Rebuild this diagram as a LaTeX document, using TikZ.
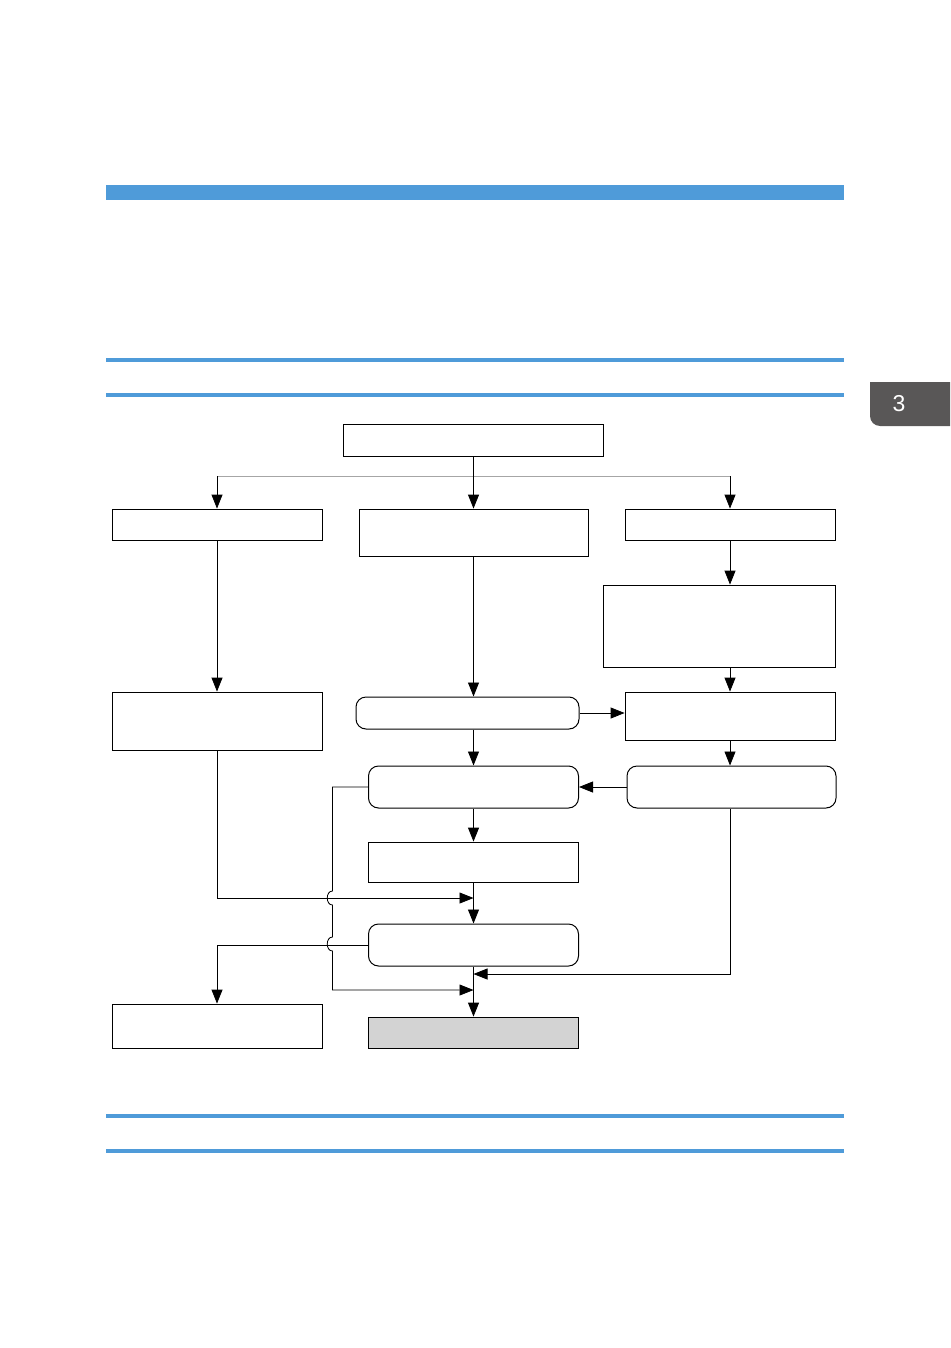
\documentclass[tikz,border=0pt]{standalone}
\usepackage{fontspec}
\setsansfont{Liberation Sans}
\usepackage{tikz}
\usetikzlibrary{arrows.meta}
\definecolor{barblue}{RGB}{79,155,217}
\definecolor{tabgrey}{RGB}{89,87,87}
\definecolor{endgrey}{RGB}{211,211,211}
\begin{document}
\begin{tikzpicture}[x=1pt,y=-1pt,line width=0.8pt,
	box/.style={draw,rectangle,inner sep=0pt,minimum width=210pt},
	rbox/.style={box,line width=1pt,rounded corners=10pt},
	arr/.style={-{Triangle[length=14pt,width=11pt]}}]
	\useasboundingbox (0,0) rectangle (950,1348);
	% page bars and tab
	\fill[barblue] (106,185) rectangle (844,200);
	\fill[barblue] (106,358) rectangle (844,362);
	\fill[barblue] (106,393) rectangle (844,397);
	\fill[barblue] (106,1114) rectangle (844,1118);
	\fill[barblue] (106,1149) rectangle (844,1153);
	\fill[tabgrey] (870,382) -- (870,416) .. controls (870,421.5) and (874.5,426) .. (880,426) -- (950,426) -- (950,382) -- cycle;
	\node[text=white,font=\sffamily\fontsize{23}{23}\selectfont] (tab) at (899,404) {3};
	%
	\node[box,minimum width=260pt,minimum height=32pt] (top) at (473.5,440) {};
	\node[box,minimum height=31pt] (l1) at (217,524.5) {};
	\node[box,minimum width=229pt,minimum height=47pt] (m1) at (473.5,532.5) {};
	\node[box,minimum height=31pt] (r1) at (730,524.5) {};
	\node[box,minimum width=232pt,minimum height=82pt] (r2) at (719,626) {};
	\node[box,minimum height=58pt] (l2) at (217,721) {};
	\node[rbox,minimum width=223pt,minimum height=32pt] (m2) at (467.5,713) {};
	\node[box,minimum height=48pt] (r3) at (730,716) {};
	\node[rbox,minimum height=42pt] (m3) at (473.5,787) {};
	\node[rbox,minimum width=209pt,minimum height=42pt] (r4) at (731.5,787) {};
	\node[box,minimum height=40pt] (m4) at (473.5,862) {};
	\node[rbox,minimum height=42pt] (m5) at (473.5,945) {};
	\node[box,minimum height=44pt] (l3) at (217,1026) {};
	\node[box,fill=endgrey,minimum height=31pt] (m6) at (473.5,1032.5) {};
	%
	\coordinate (split) at (473.5,476);
	\coordinate (jl) at (332.5,787);
	\coordinate (jr) at (730,974);
	\draw[gray!70,line width=0.6pt] (l1.north |- split) -- (r1.north |- split);
	\draw[arr] (top.south) -- (m1.north);
	\draw[arr] (l1.north |- split) -- (l1.north);
	\draw[arr] (r1.north |- split) -- (r1.north);
	\draw[arr] (l1) -- (l2);
	\draw[arr] (m1.south) -- (m1.south |- m2.north);
	\draw[arr] (r1) -- (r1 |- r2.north);
	\draw[arr] (r2.south -| r3) -- (r3);
	\draw[arr] (m2.east) -- (m2.east -| r3.west);
	\draw[arr] (m2.south -| m3.north) -- (m3);
	\draw[arr] (r3) -- (r4.north -| r3);
	\draw[arr] (r4) -- (m3);
	\draw[arr] (m3) -- (m4);
	\draw[arr] (l2.south) -- (217,898) -- (m4.south |- 0,898);
	\draw[arr] (m4) -- (m5);
	\draw[arr] (m5.west) -- (l3.north |- m5.west) -- (l3.north);
	\draw[arr] (m3.west) -- (jl) -- (332.5,891) .. controls (325.5,891) and (325.5,905) .. (332.5,905)
		-- (332.5,937) .. controls (325.5,937) and (325.5,951) .. (332.5,951) -- (332.5,990) -- (m6.north |- 0,990);
	\draw[arr] (r4.south -| jr) -- (jr) -- (m6.north |- jr);
	\draw[arr] (m5) -- (m6);
\end{tikzpicture}
\end{document}
